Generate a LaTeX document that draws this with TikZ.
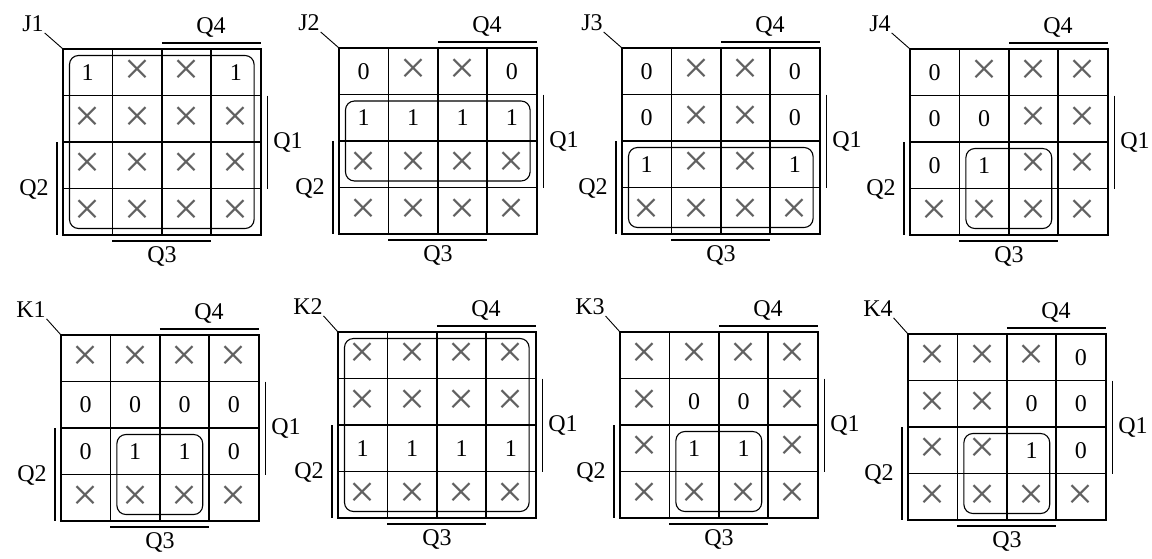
\documentclass[tikz,border=0pt]{standalone}
\usepackage{fontspec}
\setmainfont{Liberation Serif}
\usetikzlibrary{positioning,calc}

\tikzset{
  cellval/.style={inner sep=0pt, font=\fontsize{24}{24}\selectfont},
  dontcare/.style={inner sep=0pt, text=black!62, font=\fontsize{46}{46}\selectfont},
  varlabel/.style={inner sep=0pt, font=\fontsize{24}{24}\selectfont},
  gridline/.style={line width=1.8pt},
  barline/.style={line width=1.3pt},
  grouploop/.style={line width=1.1pt, rounded corners=9pt},
}

% #1 map name, #2 top left corner, #3 cell values row by row (x = don't care),
% #4 group loop as col1/row1/col2/row2
\newcommand{\kmap}[4]{%
  \begin{scope}[shift={#2}]
    \coordinate (#1-c) at (0,0);
    \draw[gridline] (0,0) rectangle (197.6,186);
    \foreach \i in {1,2,3} {
      \draw[gridline] (\i*49.4,0) -- (\i*49.4,186);
      \draw[gridline] (0,\i*46.5) -- (197.6,\i*46.5);
    }
    \foreach \v [count=\k from 0] in {#3} {
      \pgfmathtruncatemacro{\rw}{div(\k,4)}
      \pgfmathtruncatemacro{\cl}{mod(\k,4)}
      \if\v x
        \node[dontcare] (#1-\rw\cl) at (\cl*49.4+24.7,\rw*46.5+23.25) {×};
      \else
        \node[cellval] (#1-\rw\cl) at (\cl*49.4+24.7,\rw*46.5+23.25) {\v};
      \fi
    }
    \foreach \ca/\ra/\cb/\rb in {#4}
      \draw[grouploop] (\ca*49.4+6.5,\ra*46.5+6.5) rectangle (\cb*49.4-6.5,\rb*46.5-6.5);
    % variable bars
    \draw[barline] (98.8,-6) -- (197.6,-6);
    \node[varlabel] (#1-q4) at (148,-22) {Q4};
    \draw[barline] (204.5,46.5) -- (204.5,139.5);
    \node[varlabel] (#1-q1) at (225,93) {Q1};
    \draw[barline] (-6,93) -- (-6,186);
    \node[varlabel] (#1-q2) at (-29,140) {Q2};
    \draw[barline] (49.4,192) -- (148.2,192);
    \node[varlabel] (#1-q3) at (99,207) {Q3};
    % map name
    \node[varlabel] (#1-name) at (-30,-25) {#1};
    \draw[line width=0.9pt, shorten <=1pt] (#1-name.south east) -- (#1-c);
  \end{scope}
}

\begin{document}
\begin{tikzpicture}[x=1pt,y=-1pt]
  \useasboundingbox (0,0) rectangle (1152,558);
  \kmap{J1}{(63,49)}{1,x,x,1, x,x,x,x, x,x,x,x, x,x,x,x}{0/0/4/4}
  \kmap{J2}{(339,48)}{0,x,x,0, 1,1,1,1, x,x,x,x, x,x,x,x}{0/1/4/3}
  \kmap{J3}{(622,48)}{0,x,x,0, 0,x,x,0, 1,x,x,1, x,x,x,x}{0/2/4/4}
  \kmap{J4}{(910,49)}{0,x,x,x, 0,0,x,x, 0,1,x,x, x,x,x,x}{1/2/3/4}
  \kmap{K1}{(61,335)}{x,x,x,x, 0,0,0,0, 0,1,1,0, x,x,x,x}{1/2/3/4}
  \kmap{K2}{(338,332)}{x,x,x,x, x,x,x,x, 1,1,1,1, x,x,x,x}{0/0/4/4}
  \kmap{K3}{(620,332)}{x,x,x,x, x,0,0,x, x,1,1,x, x,x,x,x}{1/2/3/4}
  \kmap{K4}{(908,334)}{x,x,x,0, x,x,0,0, x,x,1,0, x,x,x,x}{1/2/3/4}
\end{tikzpicture}
\end{document}
